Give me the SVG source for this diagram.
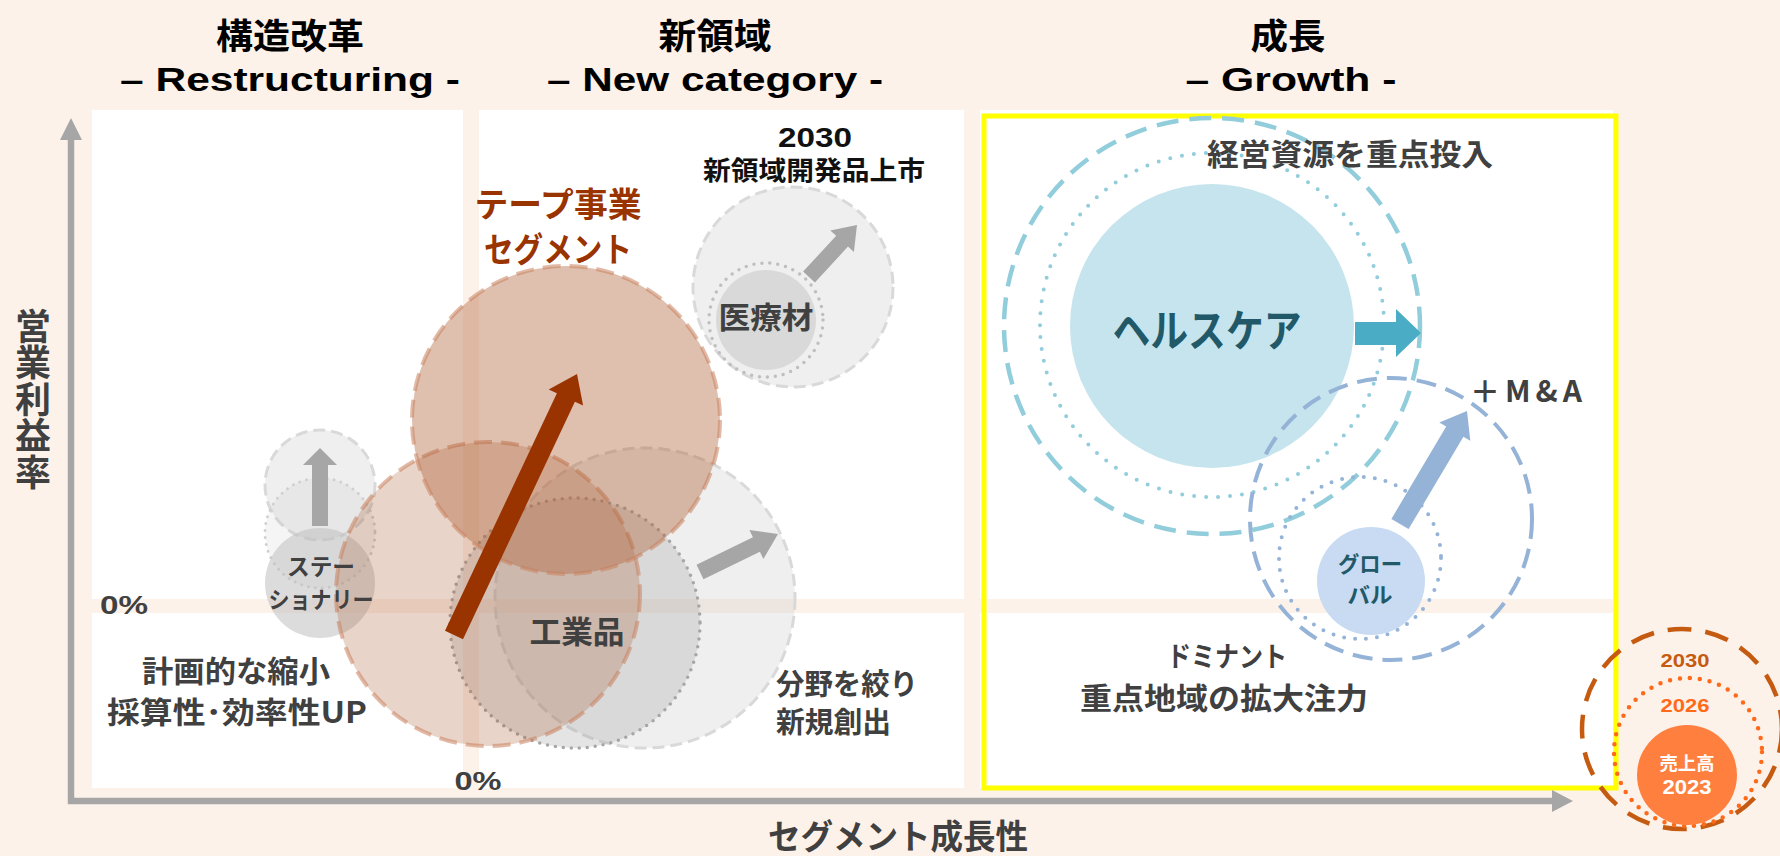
<svg xmlns="http://www.w3.org/2000/svg" width="1780" height="856" viewBox="0 0 1780 856">
<style>
text{font-family:"Noto Sans CJK JP","Noto Sans",sans-serif;font-weight:bold}
.lat{font-family:"Liberation Sans","Noto Sans",sans-serif}
.ttl{fill:#000;font-size:35px;text-anchor:middle}
.sub{fill:#000;font-size:34px;text-anchor:middle;font-family:"Liberation Sans","Noto Sans",sans-serif}
.lbl{fill:#404040;text-anchor:middle}
.panel{fill:#fff}
.gdash{stroke:#D9D9D9;stroke-width:3;stroke-dasharray:12 6;fill:#BFBFBF;fill-opacity:.25}
.gdot{stroke:#A6A6A6;stroke-width:3.5;stroke-dasharray:0 8;stroke-linecap:round}
.bdash{stroke:#C8825E;stroke-opacity:.55;stroke-width:4;stroke-dasharray:18 9;fill:#AF6137}
.arrowg{fill:#A6A6A6}
</style>
<rect x="0" y="0" width="1780" height="856" fill="#FDF2EA"/>
<g id="panels">
<rect class="panel" x="92" y="110" width="371" height="489"/>
<rect class="panel" x="92" y="613" width="371" height="175"/>
<rect class="panel" x="479" y="110" width="485" height="489"/>
<rect class="panel" x="479" y="613" width="485" height="175"/>
<rect class="panel" x="980" y="110" width="633" height="489"/>
<rect class="panel" x="980" y="613" width="633" height="175"/>
<rect x="984" y="116" width="632" height="672" fill="none" stroke="#FFFF00" stroke-width="5"/>
</g>
<g id="titles">
<text class="ttl" x="290" y="49" textLength="148" lengthAdjust="spacingAndGlyphs">構造改革</text>
<text class="sub" x="290" y="91" textLength="340" lengthAdjust="spacingAndGlyphs">– Restructuring -</text>
<text class="ttl" x="715" y="49" textLength="113" lengthAdjust="spacingAndGlyphs">新領域</text>
<text class="sub" x="715" y="91" textLength="336" lengthAdjust="spacingAndGlyphs">– New category -</text>
<text class="ttl" x="1288" y="49" textLength="75" lengthAdjust="spacingAndGlyphs">成長</text>
<text class="sub" x="1291" y="91" textLength="211" lengthAdjust="spacingAndGlyphs">– Growth -</text>
</g>
<g id="axes">
<path d="M71,139 V801 H1553" fill="none" stroke="#A6A6A6" stroke-width="6.5"/>
<polygon points="60,140 71,118 82,140" fill="#A6A6A6"/>
<polygon points="1552,790 1573,801 1552,812" fill="#A6A6A6"/>
<text class="lbl" font-size="36" x="33" y="308" style="writing-mode:vertical-rl;text-anchor:start" letter-spacing="0.5">営業利益率</text>
<text class="lbl" font-size="34" x="898" y="849" textLength="260" lengthAdjust="spacingAndGlyphs">セグメント成長性</text>
<text class="lbl lat" font-size="26" x="124" y="614" textLength="48" lengthAdjust="spacingAndGlyphs">0%</text>
<text class="lbl lat" font-size="26" x="478" y="790" textLength="47" lengthAdjust="spacingAndGlyphs">0%</text>
</g>
<g id="node-stationery">
<circle cx="320" cy="485" r="55" class="gdash"/>
<circle cx="320" cy="533" r="55" fill="#BFBFBF" fill-opacity=".15" stroke="#D0D0D0" stroke-width="3" stroke-dasharray="0 7" stroke-linecap="round"/>
<circle cx="320" cy="583" r="55" fill="#BFBFBF" fill-opacity=".55"/>
</g>
<g id="node-restructure-text">
<text class="lbl" font-size="30" x="236" y="682" textLength="188" lengthAdjust="spacingAndGlyphs">計画的な縮小</text>
<text class="lbl" font-size="30" x="237" y="723" textLength="260" lengthAdjust="spacingAndGlyphs">採算性･効率性UP</text>
</g>
<g id="node-industrial">
<circle cx="645" cy="598" r="150" class="gdash"/>
<circle cx="575" cy="623" r="125" fill="#A6A6A6" fill-opacity=".3" class="gdot"/>
</g>
<g id="node-tape">
<circle cx="488" cy="594" r="152" class="bdash" fill-opacity=".27"/>
<circle cx="566" cy="420" r="154" class="bdash" fill-opacity=".4"/>
<text font-size="34" x="558" y="217" fill="#993300" text-anchor="middle" textLength="167" lengthAdjust="spacingAndGlyphs">テープ事業</text>
<text font-size="34" x="558" y="262" fill="#993300" text-anchor="middle" textLength="148" lengthAdjust="spacingAndGlyphs">セグメント</text>
</g>
<g id="node-medical">
<circle cx="793" cy="287" r="100" class="gdash"/>
<circle cx="766" cy="320" r="57" fill="none" stroke="#BFBFBF" stroke-width="3.5" stroke-dasharray="0 8" stroke-linecap="round"/>
<circle cx="766" cy="320" r="50" fill="#BFBFBF" fill-opacity=".45"/>
<text class="lbl" font-size="30" x="766" y="328" textLength="95" lengthAdjust="spacingAndGlyphs">医療材</text>
<text class="lat" font-size="27" x="815" y="147" fill="#111" text-anchor="middle" textLength="74" lengthAdjust="spacingAndGlyphs">2030</text>
<text font-size="26" x="814" y="180" fill="#111" text-anchor="middle" textLength="222" lengthAdjust="spacingAndGlyphs">新領域開発品上市</text>
</g>
<g id="node-healthcare">
<circle cx="1212" cy="326" r="208" fill="none" stroke="#92CDDC" stroke-width="4.5" stroke-dasharray="22 11"/>
<circle cx="1212" cy="325" r="172" fill="none" stroke="#92CDDC" stroke-width="4" stroke-dasharray="0 12" stroke-linecap="round"/>
<circle cx="1212" cy="326" r="142" fill="#C6E4ED"/>
<text font-size="44" x="1207" y="347" fill="#215968" text-anchor="middle" textLength="189" lengthAdjust="spacingAndGlyphs">ヘルスケア</text>
<text class="lbl" font-size="30" x="1350" y="165" textLength="286" lengthAdjust="spacingAndGlyphs">経営資源を重点投入</text>
</g>
<g id="node-global">
<circle cx="1391" cy="519" r="141" fill="none" stroke="#95B3D7" stroke-width="4" stroke-dasharray="20 10"/>
<circle cx="1360" cy="558" r="81" fill="none" stroke="#95B3D7" stroke-width="4" stroke-dasharray="0 11" stroke-linecap="round"/>
<circle cx="1371" cy="581" r="54" fill="#C5D9F1" fill-opacity=".95"/>
<text font-size="22" x="1370" y="572" fill="#215968" text-anchor="middle" textLength="64" lengthAdjust="spacingAndGlyphs">グロー</text>
<text font-size="22" x="1370" y="603" fill="#215968" text-anchor="middle" textLength="45" lengthAdjust="spacingAndGlyphs">バル</text>
<text class="lbl" font-size="30" x="1526" y="402" textLength="112" lengthAdjust="spacing">＋M&amp;A</text>
</g>
<g id="node-dominant">
<text class="lbl" font-size="28" x="1227" y="667" textLength="120" lengthAdjust="spacingAndGlyphs">ドミナント</text>
<text class="lbl" font-size="30" x="1224" y="709" textLength="288" lengthAdjust="spacingAndGlyphs">重点地域の拡大注力</text>
</g>
<g id="node-industrial-text">
<text class="lbl" font-size="31" x="577" y="643" fill="#45383a" textLength="95" lengthAdjust="spacingAndGlyphs">工業品</text>
<text class="lbl" font-size="29" x="776" y="695" style="text-anchor:start" textLength="142" lengthAdjust="spacingAndGlyphs">分野を絞り</text>
<text class="lbl" font-size="29" x="776" y="733" style="text-anchor:start" textLength="115" lengthAdjust="spacingAndGlyphs">新規創出</text>
</g>
<g id="node-stationery-text">
<text class="lbl" font-size="23" x="321" y="575" textLength="68" lengthAdjust="spacingAndGlyphs">ステー</text>
<text class="lbl" font-size="23" x="321" y="608" textLength="105" lengthAdjust="spacingAndGlyphs">ショナリー</text>
</g>
<g id="node-sales">
<circle cx="1682" cy="729" r="100" fill="none" stroke="#C55A11" stroke-width="4.5" stroke-dasharray="24 14"/>
<circle cx="1688" cy="752" r="74" fill="none" stroke="#FF6A1A" stroke-width="4.5" stroke-dasharray="0 10" stroke-linecap="round"/>
<circle cx="1687" cy="775" r="50" fill="#FF7F3F"/>
<text class="lat" font-size="19" x="1685" y="667" fill="#C55A11" text-anchor="middle" textLength="49" lengthAdjust="spacingAndGlyphs">2030</text>
<text class="lat" font-size="19" x="1685" y="712" fill="#FF6A1A" text-anchor="middle" textLength="49" lengthAdjust="spacingAndGlyphs">2026</text>
<text font-size="18" x="1687" y="770" fill="#fff" text-anchor="middle" textLength="55" lengthAdjust="spacingAndGlyphs">売上高</text>
<text class="lat" font-size="20" x="1687" y="794" fill="#fff" text-anchor="middle" textLength="49" lengthAdjust="spacingAndGlyphs">2023</text>
</g>
<g id="connectors">
<polygon class="arrowg" points="312,526 312,465 303,465 320,448 337,465 328,465 328,526"/>
<polygon fill="#993300" points="445.0,630.7 556.9,393.2 548.7,389.4 577,374 583.1,405.6 574.9,401.8 463.0,639.3"/>
<polygon class="arrowg" points="696.5,564.8 752.9,537.3 749.4,530.1 778,534 763.4,558.9 759.9,551.7 703.5,579.2"/>
<polygon class="arrowg" points="803.1,271.6 836.2,235.8 830.3,230.4 857,225 853.9,252.0 848.0,246.6 814.9,282.4"/>
<polygon fill="#4BACC6" points="1355,322 1396,322 1396,309 1421,333 1396,357 1396,345 1355,345"/>
<polygon fill="#95B3D7" points="1391.4,518.9 1446.2,426.5 1439.3,422.4 1467,411 1470.3,440.8 1463.4,436.7 1408.6,529.1"/>
</g>
</svg>
